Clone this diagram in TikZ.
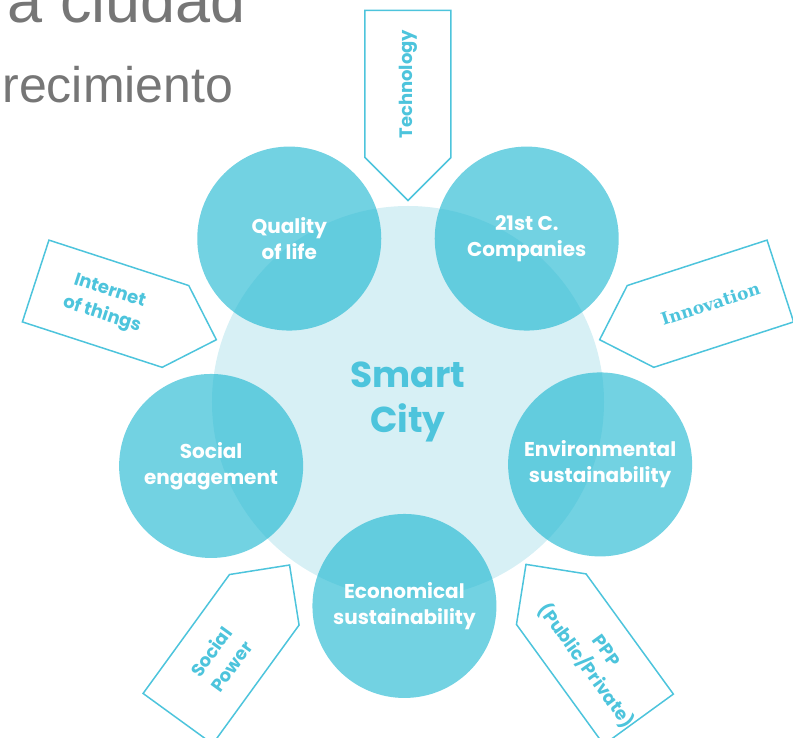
\documentclass[tikz,border=0pt]{standalone}
\usepackage{fontspec}
\usepackage{tikz}
\usetikzlibrary{shapes}
\setmainfont{Liberation Sans}
\newfontfamily\roundfont{Poppins}
\newfontfamily\slabfont{DejaVu Serif}
\definecolor{citysky}{RGB}{215,240,245}
\definecolor{citycyan}{RGB}{20,180,207}
\definecolor{cityline}{RGB}{77,196,220}
\definecolor{titlegray}{RGB}{118,118,118}

\begin{document}
\begin{tikzpicture}[x=1pt, y=1pt,
    hub/.style = {circle, fill=citysky, minimum size=392pt, text=cityline, align=center,
        font=\roundfont\bfseries\fontsize{36}{45}\selectfont},
    bubble/.style = {circle, fill=citycyan, fill opacity=0.6, text opacity=1, text=white,
        minimum size=184pt, align=center, font=\roundfont\bfseries\fontsize{20}{26}\selectfont},
    tag/.style = {signal, signal pointer angle=90, draw=cityline, line width=1.5pt,
        minimum width=190pt, minimum height=86pt, inner sep=0pt, text=cityline, align=center,
        font=\roundfont\bfseries\fontsize{18}{25}\selectfont}]
                \useasboundingbox (-408,-336) rectangle (385,402);

                % heading left over from the slide
                \node[anchor=base west, text=titlegray, font=\fontsize{63}{70}\selectfont] at (-404, 379) (head1) {a ciudad};
                \node[anchor=base west, text=titlegray, font=\fontsize{50}{60}\selectfont] at (-409, 299) (head2) {recimiento};

                \node[hub] at (0, 0) (city) {Smart\\City};

                \node[bubble] at (126:202) (life) {Quality\\of life};
                \node[bubble] at (54:202) (firms) {21st C.\\Companies};
                \node[bubble] at (-18:202) (env) {Environmental\\sustainability};
                \node[bubble] at (-91:204) (eco) {Economical\\sustainability};
                \node[bubble] at (198:207) (social) {Social\\engagement};

                \node[tag, rotate=90, signal to=west] at (90:318) (tech) {Technology};
                \node[tag, rotate=18, signal to=west, font=\slabfont\bfseries\fontsize{17}{22}\selectfont] at (18:318) (innov) {Innovation};
                \node[tag, rotate=-54, signal to=west] at (-54:318) (ppp) {PPP\\(Public/Private)};
                \node[tag, rotate=54, signal to=east] at (-126:318) (power) {Social\\Power};
                \node[tag, rotate=-18, signal to=east] at (162:318) (iot) {Internet\\of things};
            \end{tikzpicture}
\end{document}
